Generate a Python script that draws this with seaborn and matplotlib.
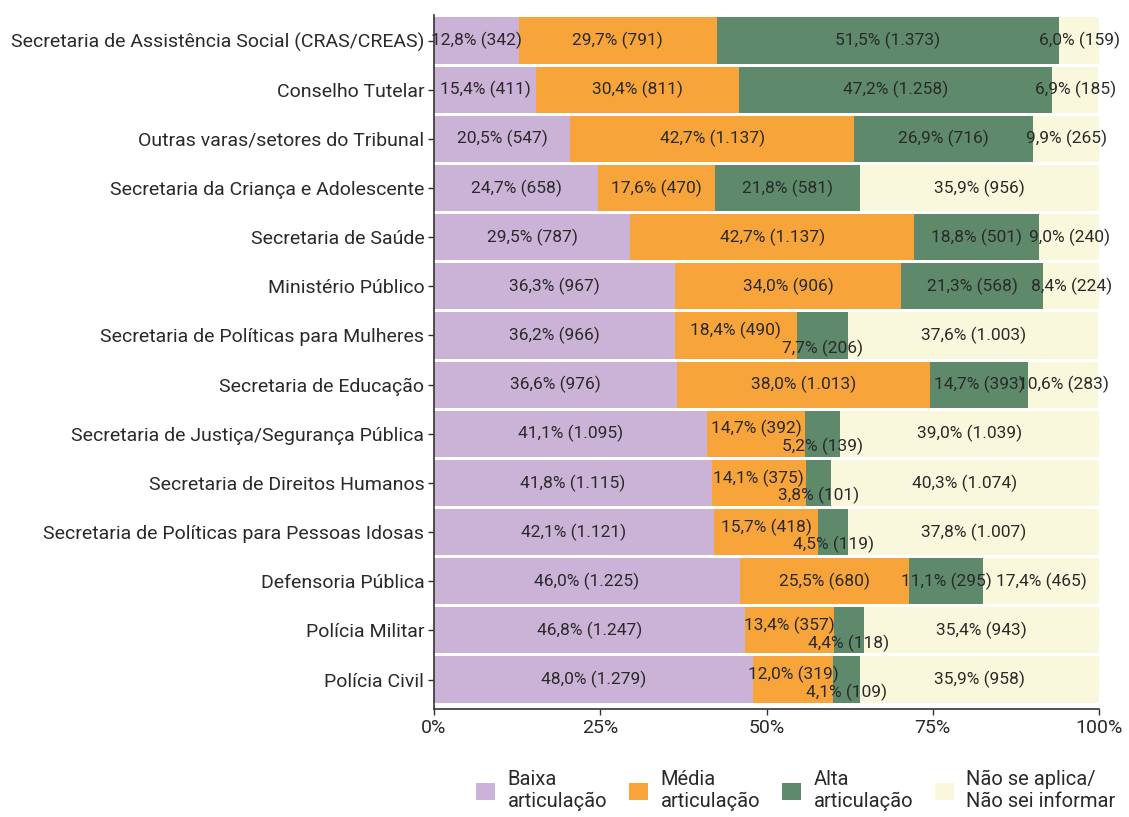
import matplotlib
matplotlib.use("Agg")
import matplotlib.pyplot as plt
from matplotlib.patches import Patch
import pandas as pd
import seaborn as sns

# --- data (top to bottom) ---
orgaos = [
    "Secretaria de Assistência Social (CRAS/CREAS)",
    "Conselho Tutelar",
    "Outras varas/setores do Tribunal",
    "Secretaria da Criança e Adolescente",
    "Secretaria de Saúde",
    "Ministério Público",
    "Secretaria de Políticas para Mulheres",
    "Secretaria de Educação",
    "Secretaria de Justiça/Segurança Pública",
    "Secretaria de Direitos Humanos",
    "Secretaria de Políticas para Pessoas Idosas",
    "Defensoria Pública",
    "Polícia Militar",
    "Polícia Civil",
]
baixa_pct = [12.8, 15.4, 20.5, 24.7, 29.5, 36.3, 36.2, 36.6, 41.1, 41.8, 42.1, 46.0, 46.8, 48.0]
baixa_n = [342, 411, 547, 658, 787, 967, 966, 976, 1095, 1115, 1121, 1225, 1247, 1279]
media_pct = [29.7, 30.4, 42.7, 17.6, 42.7, 34.0, 18.4, 38.0, 14.7, 14.1, 15.7, 25.5, 13.4, 12.0]
media_n = [791, 811, 1137, 470, 1137, 906, 490, 1013, 392, 375, 418, 680, 357, 319]
alta_pct = [51.5, 47.2, 26.9, 21.8, 18.8, 21.3, 7.7, 14.7, 5.2, 3.8, 4.5, 11.1, 4.4, 4.1]
alta_n = [1373, 1258, 716, 581, 501, 568, 206, 393, 139, 101, 119, 295, 118, 109]
nao_pct = [6.0, 6.9, 9.9, 35.9, 9.0, 8.4, 37.6, 10.6, 39.0, 40.3, 37.8, 17.4, 35.4, 35.9]
nao_n = [159, 185, 265, 956, 240, 224, 1003, 283, 1039, 1074, 1007, 465, 943, 958]

categorias = ["Baixa\narticulação", "Média\narticulação", "Alta\narticulação",
              "Não se aplica/\nNão sei informar"]
cores = ["#CBB3D7", "#F7A53B", "#5E8A6B", "#FAF8DC"]

df = pd.DataFrame({"orgao": orgaos})
df["c1"] = baixa_pct
df["c2"] = df["c1"] + media_pct
df["c3"] = df["c2"] + alta_pct
df["c4"] = df["c3"] + nao_pct

sns.set_theme(style="white")
plt.rcParams["font.family"] = ["Roboto", "DejaVu Sans"]

fig = plt.figure(figsize=(11.29, 8.17), dpi=100)
ax = fig.add_axes([434 / 1129, 1 - 709 / 817, 665 / 1129, 694 / 817])

# stacked bars drawn back to front
for col, cor in zip(["c4", "c3", "c2", "c1"], cores[::-1]):
    sns.barplot(data=df, x=col, y="orgao", orient="h", color=cor, saturation=1,
                width=0.94, linewidth=0, ax=ax)


def fmt(p, n):
    return f"{p:.1f}".replace(".", ",") + "% (" + f"{n:,}".replace(",", ".") + ")"


texto_cor = "#2a2a2a"
for i in range(len(orgaos)):
    esq = 0
    pequeno = alta_pct[i] < 10
    segs = [(baixa_pct[i], baixa_n[i], 0), (media_pct[i], media_n[i], -0.1 if pequeno else 0),
            (alta_pct[i], alta_n[i], 0.26 if pequeno else 0), (nao_pct[i], nao_n[i], 0)]
    for p, n, dy in segs:
        ax.text(esq + p / 2, i + dy, fmt(p, n), ha="center", va="center",
                fontsize=12.5, color=texto_cor, zorder=5)
        esq += p

ax.set_xlim(0, 100)
ax.set_ylim(13.6, -0.52)
ax.set_xticks([0, 25, 50, 75, 100])
ax.set_xticklabels(["0%", "25%", "50%", "75%", "100%"])
ax.set_xlabel("")
ax.set_ylabel("")
ax.tick_params(axis="both", labelsize=14, labelcolor=texto_cor, length=4,
               width=1, color="#333333", left=True, bottom=True, pad=3)
for s in ["top", "right"]:
    ax.spines[s].set_visible(False)
for s in ["left", "bottom"]:
    ax.spines[s].set_color("#333333")
    ax.spines[s].set_linewidth(1.2)

handles = [Patch(facecolor=c, edgecolor="none") for c in cores]
fig.legend(handles, categorias, loc="center", bbox_to_anchor=(0.705, 0.032), ncol=4,
           frameon=False, fontsize=14.5, handlelength=0.95, handleheight=0.95,
           handletextpad=0.6, columnspacing=1.1, labelcolor=texto_cor)

fig.savefig("out.png", dpi=100)
